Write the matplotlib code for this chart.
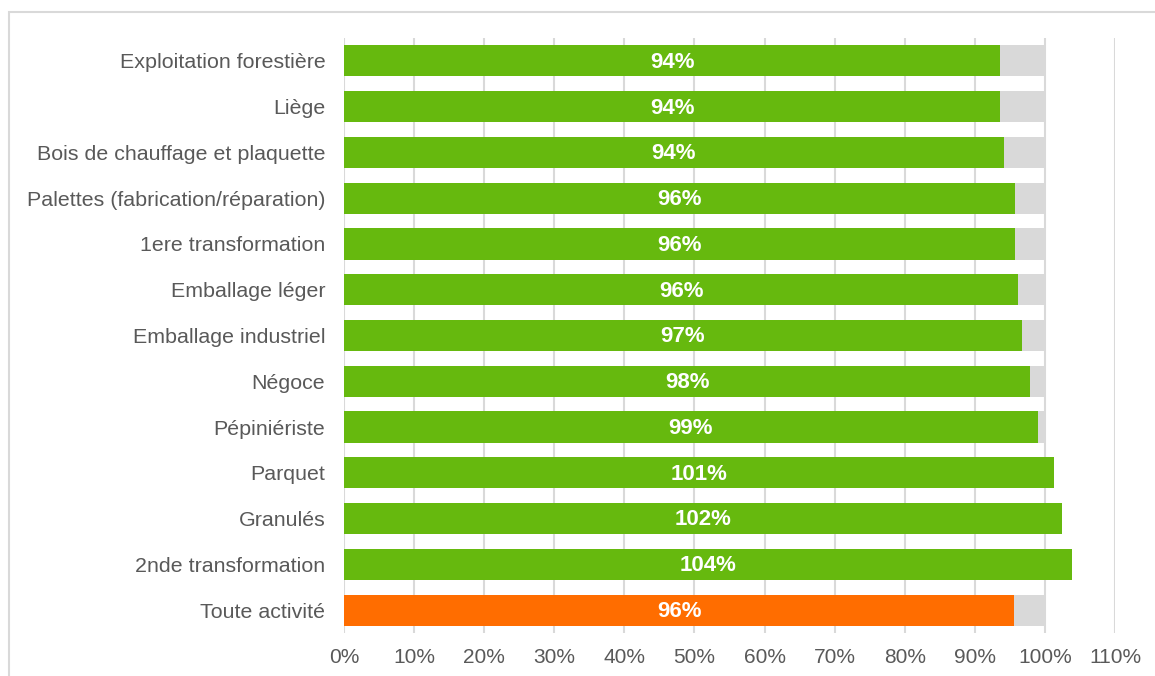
import matplotlib
matplotlib.use("Agg")
from matplotlib import pyplot as plt
from matplotlib.patches import Rectangle

plt.rcParams['font.family'] = ['Liberation Sans', 'DejaVu Sans']

# Data
categories = ["Exploitation forestière", "Liège", "Bois de chauffage et plaquette",
              "Palettes (fabrication/réparation)", "1ere transformation", "Emballage léger",
              "Emballage industriel", "Négoce", "Pépiniériste", "Parquet", "Granulés",
              "2nde transformation", "Toute activité"]
values = [93.6, 93.6, 94.1, 95.7, 95.7, 96.2, 96.7, 97.9, 99.0, 101.3, 102.4, 103.8, 95.6]
value_labels = ["94%", "94%", "94%", "96%", "96%", "96%", "97%", "98%", "99%",
                "101%", "102%", "104%", "96%"]
reference = [100] * len(categories)
ticks = [0, 10, 20, 30, 40, 50, 60, 70, 80, 90, 100, 110]

GREEN = "#66B90E"
ORANGE = "#FF6D00"
GREY = "#D9D9D9"
TEXT = "#595959"


def main():
    fig = plt.figure(figsize=(11.55, 6.76), dpi=100)
    # light frame around the chart area
    fig.patches.append(Rectangle((9 / 1155, -0.05), 1.2, 1 - 12 / 676 + 0.05,
                                 transform=fig.transFigure, fill=False,
                                 edgecolor=GREY, linewidth=1.5))
    ax = fig.add_axes([344 / 1155, 1 - 633 / 676, 771 / 1155, 595 / 676])

    ypos = list(range(len(categories)))
    colors = [GREEN] * (len(categories) - 1) + [ORANGE]
    ax.barh(ypos, reference, height=0.68, color=GREY, zorder=2)
    ax.barh(ypos, values, height=0.68, color=colors, zorder=3)

    for y, v, lab in zip(ypos, values, value_labels):
        ax.text(v / 2, y + 0.03, lab, ha="center", va="center", color="white",
                fontsize=16, fontweight="bold", zorder=4)

    ax.set_xlim(0, 110)
    ax.set_ylim(len(categories) - 0.5, -0.5)
    ax.set_xticks(ticks)
    ax.set_xticklabels([f"{t}%" for t in ticks])
    ax.set_yticks(ypos)
    ax.set_yticklabels(categories)
    ax.tick_params(axis="y", length=0, pad=13.5, labelsize=15.4, labelcolor=TEXT)
    ax.tick_params(axis="x", length=0, pad=11, labelsize=15, labelcolor=TEXT)
    ax.xaxis.grid(True, color=GREY, linewidth=1.5, zorder=0)
    ax.set_axisbelow(True)
    for s in ax.spines.values():
        s.set_visible(False)

    fig.savefig("out.png", dpi=100)


if __name__ == '__main__':
    main()
